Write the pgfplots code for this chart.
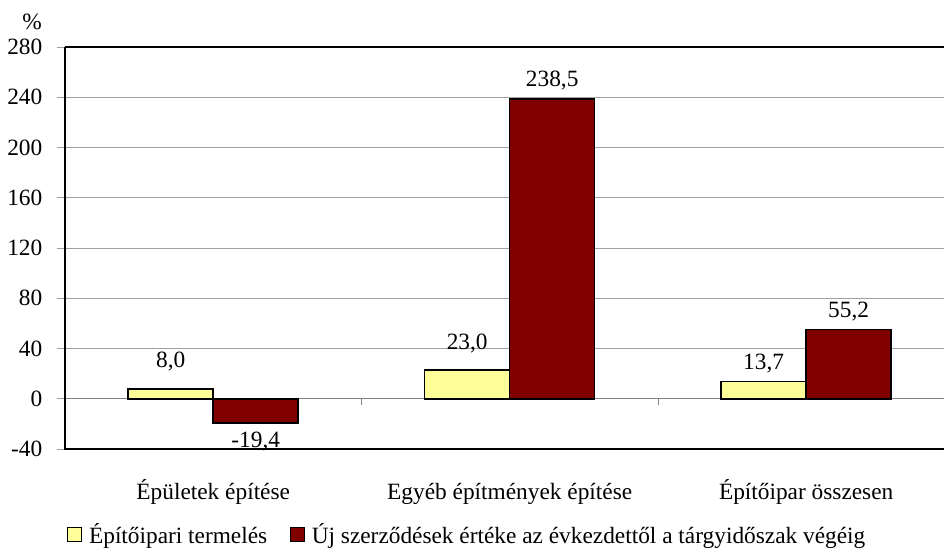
\documentclass[border=0pt]{standalone}
\usepackage{fontspec}
\setmainfont{Liberation Serif}
\usepackage{pgfplots}
\pgfplotsset{compat=1.18}
\definecolor{sarga}{HTML}{FFFF99}
\definecolor{bordo}{HTML}{800000}
\definecolor{racs}{HTML}{A0A0A0}

% x  y  dy (label lift, pt)
\pgfplotstableread{
x y dy
0 8.0 7
1 23.0 6
2 13.7 0
}\termeles
\pgfplotstableread{
x y dy
0 -19.4 0
1 238.5 0
2 55.2 0
}\szerzodes

\begin{document}
\fontsize{17.5}{21}\selectfont
\begin{tikzpicture}[x=1pt,y=1pt,font=\fontsize{17.5}{21}\selectfont]
\useasboundingbox (-48.75,-75.75) rectangle (659.25,336.75);
\begin{axis}[
  at={(0,0)}, anchor=south west, scale only axis,
  width=659.25pt, height=301.5pt,
  ybar=0pt, bar width=63.75pt,
  xmin=-0.5, xmax=2.465, ymin=-40, ymax=280,
  clip=false,
  axis line style={draw=none},
  ytick={-40,0,...,280},
  ymajorgrids, grid style={racs, line width=0.6pt},
  ytick align=outside, major tick length=6pt,
  ytick style={racs, line width=0.6pt},
  xtick={0,1,2},
  xticklabels={Épületek építése, Egyéb építmények építése, Építőipar összesen},
  major x tick style={draw=none},
  xticklabel style={yshift=-12pt, text height=14pt, text depth=4pt},
  yticklabel style={xshift=-5pt},
  tick label style={font=\fontsize{17.5}{21}\selectfont},
  /pgf/number format/assume math mode=true,
  nodes near coords={\pgfmathprintnumber[fixed,fixed zerofill,precision=1,use comma,assume math mode=true]{\pgfplotspointmeta}},
  visualization depends on={\thisrow{dy}\as\dy},
  every node near coord/.append style={font=\fontsize{17.5}{21}\selectfont, yshift=\dy pt},
  legend columns=2,
  legend style={draw=none, at={(0.458,-0.214)}, anchor=center,
    font=\fontsize{17.5}{21}\selectfont,
    /tikz/every odd column/.append style={column sep=3pt},
    /tikz/every even column/.append style={column sep=15pt}},
  legend image code/.code={\draw[#1,line width=0.9pt] (0pt,-5pt) rectangle (10.5pt,5.5pt);},
]
\draw[gray, line width=0.8pt] (axis cs:-0.5,0) -- (axis cs:2.465,0);
\draw[gray, line width=0.6pt] (axis cs:0.5,0) -- ([yshift=-5pt]axis cs:0.5,0);
\draw[gray, line width=0.6pt] (axis cs:1.5,0) -- ([yshift=-5pt]axis cs:1.5,0);
\addplot[draw=black, line width=1.2pt, fill=sarga] table[x=x,y=y] {\termeles};
\addplot[draw=black, line width=1.2pt, fill=bordo] table[x=x,y=y] {\szerzodes};
\legend{Építőipari termelés, Új szerződések értéke az évkezdettől a tárgyidőszak végéig}
\draw[black, line width=1.5pt] (rel axis cs:0,1) -- (rel axis cs:1,1);
\draw[black, line width=1.5pt] (rel axis cs:0,1) -- (rel axis cs:0,0) -- (rel axis cs:1,0);
\end{axis}
\node at (-24.75,320) {\%};
\end{tikzpicture}
\end{document}
